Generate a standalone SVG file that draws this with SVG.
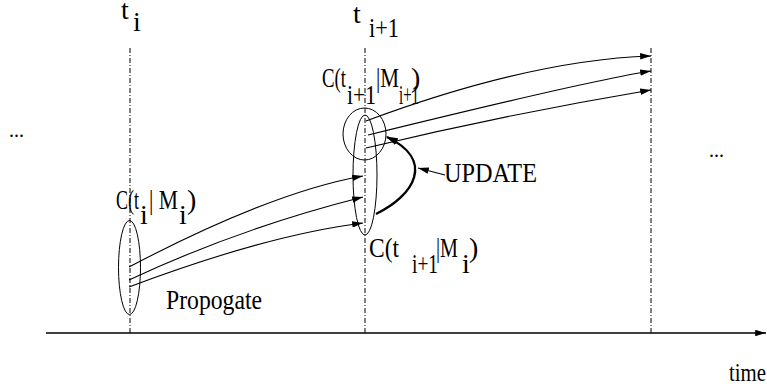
<svg xmlns="http://www.w3.org/2000/svg" width="767" height="392" viewBox="0 0 767 392">
<defs>
<style>
text{font-family:"Liberation Serif","Times New Roman",serif;font-size:28px;fill:#000}
.grid{stroke:#000;stroke-width:1;stroke-dasharray:5 2 1 2;fill:none}
.thin{stroke:#000;stroke-width:1.1;fill:none}
.thick{stroke:#000;stroke-width:2.4;fill:none}
.ell{stroke:#000;stroke-width:1;fill:none}
</style>
<marker id="ah" viewBox="0 0 10 6" refX="10" refY="3" markerWidth="11" markerHeight="6.5" markerUnits="userSpaceOnUse" orient="auto">
<path d="M0,0 L10,3 L0,6 Z" fill="#000"/>
</marker>
<marker id="ahb" viewBox="0 0 10 6" refX="9" refY="3" markerWidth="12" markerHeight="7.5" markerUnits="userSpaceOnUse" orient="auto">
<path d="M0,0 L10,3 L0,6 Z" fill="#000"/>
</marker>
</defs>
<rect width="767" height="392" fill="#fff"/>

<g id="timeline">
<line class="grid" x1="130" y1="48" x2="130" y2="333"/>
<line class="grid" x1="365" y1="48" x2="365" y2="333"/>
<line class="grid" x1="651" y1="48" x2="651" y2="333"/>
<line x1="46" y1="333" x2="766" y2="333" stroke="#000" stroke-width="1.6" marker-end="url(#ah)"/>
<text x="729" y="381" textLength="37" lengthAdjust="spacingAndGlyphs" style="font-size:26px">time</text>
<text x="9" y="137" style="font-size:20px">...</text>
<text x="709" y="157" style="font-size:20px">...</text>
</g>

<g id="label-ti">
<text x="121" y="19">t</text>
<text x="133" y="31">i</text>
</g>
<g id="label-ti1">
<text x="353" y="23">t</text>
<text x="369" y="37" textLength="30" lengthAdjust="spacingAndGlyphs">i+1</text>
</g>

<g id="node-left">
<ellipse class="ell" cx="129.5" cy="267.5" rx="11" ry="47"/>
<text x="116" y="209" textLength="23" lengthAdjust="spacingAndGlyphs">C(t</text>
<text x="140" y="224">i</text>
<text x="149" y="209" textLength="29" lengthAdjust="spacingAndGlyphs">| M</text>
<text x="179" y="224">i</text>
<text x="187" y="209">)</text>
</g>

<g id="node-mid">
<ellipse class="ell" cx="365" cy="175" rx="12" ry="60"/>
<text x="369" y="257" textLength="30" lengthAdjust="spacingAndGlyphs">C(t</text>
<text x="412" y="273" textLength="26" lengthAdjust="spacingAndGlyphs">i+1</text>
<text x="436" y="257" textLength="22" lengthAdjust="spacingAndGlyphs">|M</text>
<text x="462" y="273">i</text>
<text x="469" y="257">)</text>
</g>

<g id="node-upd">
<ellipse class="ell" cx="364.5" cy="134" rx="21.5" ry="26"/>
<text x="322" y="87" textLength="24" lengthAdjust="spacingAndGlyphs">C(t</text>
<text x="347" y="104" textLength="29" lengthAdjust="spacingAndGlyphs">i+1</text>
<text x="376" y="87" textLength="23" lengthAdjust="spacingAndGlyphs">|M</text>
<text x="399" y="104" textLength="20" lengthAdjust="spacingAndGlyphs">i+1</text>
<text x="411" y="87">)</text>
</g>

<g id="labels">
<text x="166" y="309" textLength="96" lengthAdjust="spacingAndGlyphs">Propogate</text>
<text x="444" y="182" textLength="93" lengthAdjust="spacingAndGlyphs">UPDATE</text>
</g>

<g id="connectors">
<path class="thin" d="M129,267 Q272,192 363,176" marker-end="url(#ah)"/>
<path class="thin" d="M129,280 Q240,228 363,197" marker-end="url(#ah)"/>
<path class="thin" d="M129,287 Q267,235 363,223" marker-end="url(#ah)"/>
<path class="thin" d="M366,121 Q530,60 651,56" marker-end="url(#ah)"/>
<path class="thin" d="M368,135 Q592,80 651,71" marker-end="url(#ah)"/>
<path class="thin" d="M366,148 Q508,114 651,90" marker-end="url(#ah)"/>
<path class="thick" d="M376,214 C415,195 435,160 387,137" marker-end="url(#ahb)"/>
<line class="thin" x1="445" y1="175" x2="418" y2="168" marker-end="url(#ah)"/>
</g>
</svg>
